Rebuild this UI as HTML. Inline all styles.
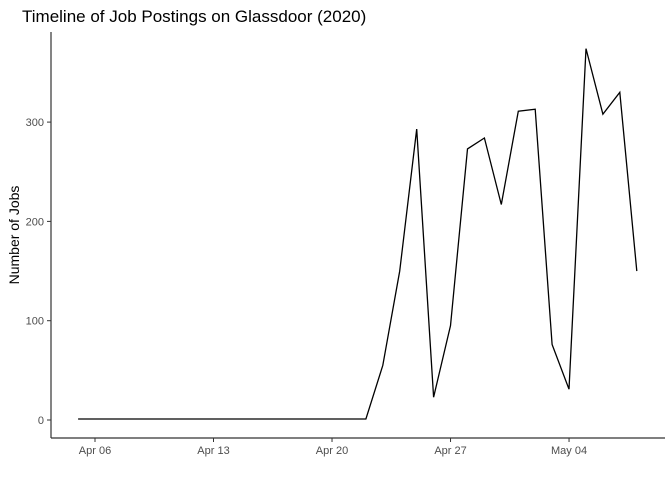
<!DOCTYPE html>
<html><head><meta charset="utf-8"><style>
body{margin:0;background:#fff;}
svg{display:block;font-family:"Liberation Sans",Arial,sans-serif;}
</style></head><body>
<svg id="c" width="672" height="480">
<text x="22" y="22" font-size="17" fill="#000">Timeline of Job Postings on Glassdoor (2020)</text>
<text transform="translate(19,235) rotate(-90)" text-anchor="middle" font-size="14" fill="#000">Number of Jobs</text>
<line x1="51" y1="32" x2="51" y2="438" stroke="#333" stroke-width="1.2"/>
<line x1="51" y1="438" x2="665" y2="438" stroke="#333" stroke-width="1.2"/>
<g id="yt"></g><g id="xt"></g>
<path id="ln" fill="none" stroke="#000" stroke-width="1.3"/>
</svg>
<script>
const values=[1,1,1,1,1,1,1,1,1,1,1,1,1,1,1,1,1,1,55,150,293,23,95,273,284,217,311,313,76,31,374,308,330,150];
const startDay=5;
const yTicks=[0,100,200,300];
const xTickDays=[6,13,20,27,34];
const xTickLabels=["Apr 06","Apr 13","Apr 20","Apr 27","May 04"];
const X=d=>95+(d-6)*16.93;
const Y=v=>420-v*0.993;
const ns="http://www.w3.org/2000/svg";
const yt=document.getElementById('yt'),xt=document.getElementById('xt');
yTicks.forEach(t=>{
 const l=document.createElementNS(ns,'line');l.setAttribute('x1',47);l.setAttribute('x2',51);l.setAttribute('y1',Y(t));l.setAttribute('y2',Y(t));l.setAttribute('stroke','#333');
 
 
 yt.appendChild(l);
 const s=document.createElementNS(ns,'text');s.setAttribute('x',44);s.setAttribute('y',Y(t)+4);s.setAttribute('text-anchor','end');s.setAttribute('font-size','11');s.setAttribute('fill','#4d4d4d');s.textContent=t;
 
 
 yt.appendChild(s);
});
xTickDays.forEach((d,i)=>{
 const l=document.createElementNS(ns,'line');l.setAttribute('x1',X(d));l.setAttribute('x2',X(d));l.setAttribute('y1',438);l.setAttribute('y2',442);l.setAttribute('stroke','#333');
 
 
 xt.appendChild(l);
 const s=document.createElementNS(ns,'text');s.setAttribute('x',X(d));s.setAttribute('y',454);s.setAttribute('text-anchor','middle');s.setAttribute('font-size','11');s.setAttribute('fill','#4d4d4d');s.textContent=xTickLabels[i];
 
 
 xt.appendChild(s);
});
document.getElementById('ln').setAttribute('d',values.map((v,i)=>(i?'L':'M')+X(startDay+i).toFixed(1)+','+Y(v).toFixed(1)).join(''));
</script>
</body></html>
